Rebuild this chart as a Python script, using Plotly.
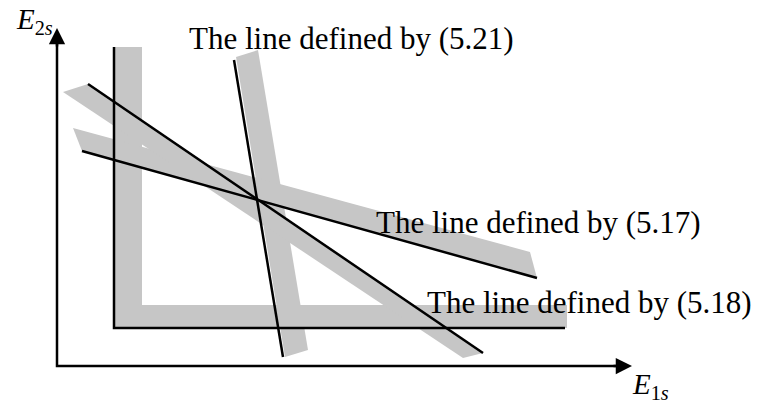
import plotly.graph_objects as go

# diagram coordinates: origin at the corner of the two axes
x_axis_end = 575
y_axis_end = 338

# grey tolerance bands (polygons)
band_L_x = [57, 85, 85, 510, 510, 57]
band_L_y = [319, 319, 61, 61, 38, 38]
band_521_x = [179, 201, 251, 228]
band_521_y = [309, 316, 16, 9]
band_517_x = [16, 25, 480, 473]
band_517_y = [238, 215, 88, 114]
band_518_x = [31, 6, 406, 426]
band_518_y = [282, 274, 8, 13]

# black lines
line_L_x = [57, 57, 508]
line_L_y = [319, 38, 38]
line_521_x = [177, 226]
line_521_y = [306, 9]
line_517_x = [25, 480]
line_517_y = [215, 88]
line_518_x = [31, 426]
line_518_y = [282, 13]

labels = ["The line defined by (5.21)", "The line defined by (5.17)", "The line defined by (5.18)"]
label_x = [294, 481, 532]
label_y = [328, 144, 64]

GREY = "#c6c6c6"
FONT = "Liberation Serif"

fig = go.Figure()
for bx, by in [(band_L_x, band_L_y), (band_521_x, band_521_y),
               (band_517_x, band_517_y), (band_518_x, band_518_y)]:
    fig.add_trace(go.Scatter(x=bx, y=by, fill="toself", fillcolor=GREY,
                             mode="lines", line=dict(width=0, color=GREY),
                             hoverinfo="skip", showlegend=False))

for lx, ly in [(line_L_x, line_L_y), (line_521_x, line_521_y),
               (line_517_x, line_517_y), (line_518_x, line_518_y)]:
    fig.add_trace(go.Scatter(x=lx, y=ly, mode="lines",
                             line=dict(width=2.5, color="black"),
                             hoverinfo="skip", showlegend=False))

# axes with arrows
fig.add_trace(go.Scatter(x=[0, 0, x_axis_end - 8], y=[y_axis_end - 8, 0, 0], mode="lines",
                         line=dict(width=2.5, color="black"), hoverinfo="skip", showlegend=False))
fig.add_annotation(x=0, y=y_axis_end, ax=0, ay=y_axis_end - 20, xref="x", yref="y",
                   axref="x", ayref="y", showarrow=True, arrowhead=2, arrowsize=1.3,
                   arrowwidth=2.5, arrowcolor="black", text="")
fig.add_annotation(x=x_axis_end, y=0, ax=x_axis_end - 20, ay=0, xref="x", yref="y",
                   axref="x", ayref="y", showarrow=True, arrowhead=2, arrowsize=1.3,
                   arrowwidth=2.5, arrowcolor="black", text="")

for t, tx, ty in zip(labels, label_x, label_y):
    fig.add_annotation(x=tx, y=ty, text=t, showarrow=False, xanchor="center", yanchor="middle",
                       font=dict(family=FONT, size=31, color="black"))

fig.add_annotation(x=-2, y=345, text="<i>E</i><sub>2<i>s</i></sub>", showarrow=False,
                   xanchor="right", yanchor="middle", font=dict(family=FONT, size=29, color="black"))
fig.add_annotation(x=573, y=-20, text="<i>E</i><sub>1<i>s</i></sub>", showarrow=False,
                   xanchor="left", yanchor="middle", font=dict(family=FONT, size=29, color="black"))

# ranges shifted by the 8px page margin so the drawing lands where the reference has it
fig.update_xaxes(range=[-49, 710], visible=False)
fig.update_yaxes(range=[-43, 358], visible=False)
fig.update_layout(width=759, height=401, margin=dict(l=0, r=0, t=0, b=0),
                  plot_bgcolor="white", paper_bgcolor="white")
fig.write_html("out.html")
